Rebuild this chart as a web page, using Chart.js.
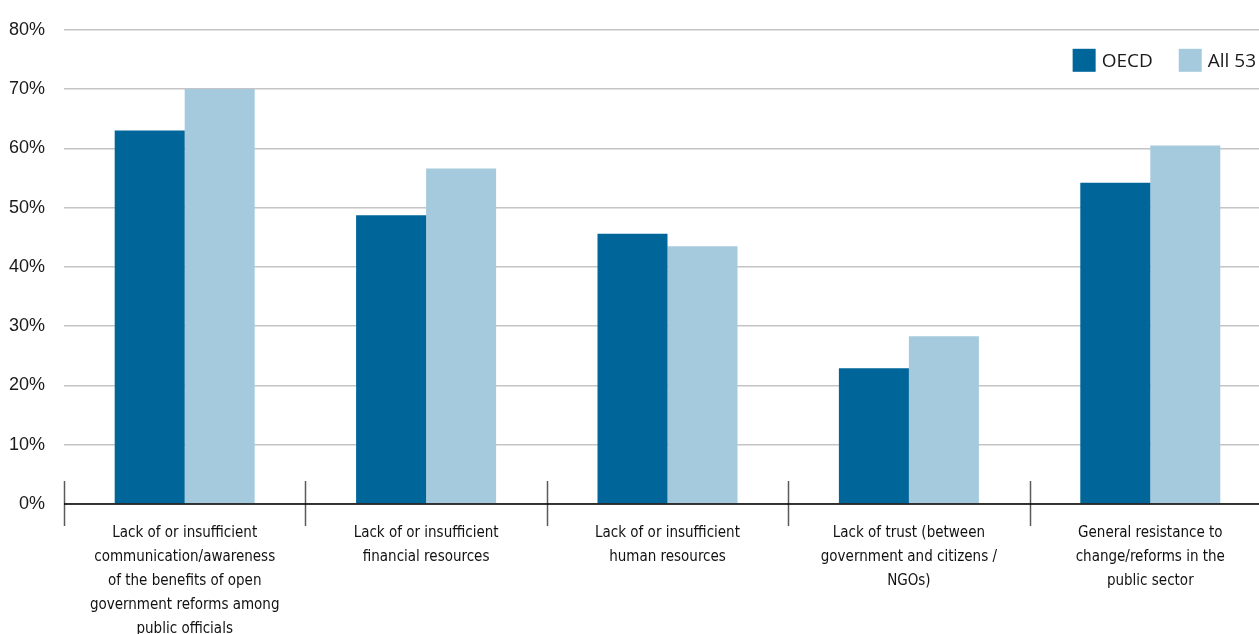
<!DOCTYPE html>
<html>
<head>
<meta charset="utf-8">
<script src="https://cdn.jsdelivr.net/npm/chart.js@4.4.0/dist/chart.umd.min.js"></script>
<style>
  html, body { margin: 0; padding: 0; background: #fff; overflow: hidden; }
  #wrap { position: relative; width: 1272px; height: 634px; }
</style>
</head>
<body>
<div id="wrap"><canvas id="c"></canvas></div>
<script>
const categories = [
  ["Lack of or insufficient", "communication/awareness", "of the benefits of open", "government reforms among", "public officials"],
  ["Lack of or insufficient", "financial resources"],
  ["Lack of or insufficient", "human resources"],
  ["Lack of trust (between", "government and citizens /", "NGOs)"],
  ["General resistance to", "change/reforms in the", "public sector"]
];
const oecdValues = [63.0, 48.7, 45.6, 22.9, 54.2];
const all53Values = [70.0, 56.6, 43.5, 28.3, 60.5];
const seriesNames = ["OECD", "All 53"];
const yTicks = [0, 10, 20, 30, 40, 50, 60, 70, 80];

const separators = {
  id: 'separators',
  afterDatasetsDraw(chart) {
    const { ctx, chartArea, scales } = chart;
    const n = categories.length;
    const step = (chartArea.right - chartArea.left) / n;
    const y0 = scales.y.getPixelForValue(0);
    ctx.save();
    ctx.strokeStyle = '#5a5a5a';
    ctx.lineWidth = 1.5;
    for (let i = 0; i <= n; i++) {
      const x = Math.round(chartArea.left + i * step) + 0.5;
      ctx.beginPath();
      ctx.moveTo(x, y0 - 23);
      ctx.lineTo(x, y0 + 22);
      ctx.stroke();
    }
    ctx.strokeStyle = '#000';
    ctx.lineWidth = 1.5;
    ctx.beginPath();
    ctx.moveTo(chartArea.left, y0);
    ctx.lineTo(chartArea.right, y0);
    ctx.stroke();
    ctx.restore();
  }
};

const insideLegend = {
  id: 'insideLegend',
  afterDraw(chart) {
    const { ctx, chartArea } = chart;
    const box = 23, gapText = 6, gapItem = 26;
    const top = chartArea.top + 19;
    ctx.save();
    ctx.font = "19px 'Open Sans', sans-serif";
    ctx.textBaseline = 'middle';
    ctx.textAlign = 'left';
    const items = chart.data.datasets.map(ds => ({ text: ds.label, color: ds.backgroundColor, w: ctx.measureText(ds.label).width }));
    let total = 0;
    items.forEach((it, i) => { total += box + gapText + it.w + (i < items.length - 1 ? gapItem : 0); });
    let x = chart.width - 16 - total;
    items.forEach(it => {
      ctx.fillStyle = it.color;
      ctx.fillRect(x, top, box, box);
      ctx.fillStyle = '#1a1a1a';
      ctx.fillText(it.text, x + box + gapText, top + box / 2 + 1);
      x += box + gapText + it.w + gapItem;
    });
    ctx.restore();
  }
};

new Chart(document.getElementById('c'), {
  type: 'bar',
  data: {
    labels: categories,
    datasets: [
      { label: seriesNames[0], data: oecdValues, backgroundColor: '#006599', borderWidth: 0 },
      { label: seriesNames[1], data: all53Values, backgroundColor: '#a6cadd', borderWidth: 0 }
    ]
  },
  options: {
    responsive: true,
    maintainAspectRatio: false,
    animation: false,
    datasets: { bar: { categoryPercentage: 0.58, barPercentage: 1 } },
    layout: { padding: { top: 24, right: 1, left: 0, bottom: 0 } },
    plugins: {
      legend: { display: false },
      tooltip: { enabled: false }
    },
    scales: {
      x: {
        offset: true,
        grid: { display: false, drawTicks: false },
        border: { display: false },
        ticks: {
          maxRotation: 0,
          autoSkip: false,
          padding: 17,
          color: '#111',
          font: { family: "'DejaVu Sans Condensed', 'Liberation Sans', sans-serif", size: 15, lineHeight: '24px' }
        },
        afterFit(scale) { scale.height = 130; }
      },
      y: {
        min: 0,
        max: 80,
        afterBuildTicks(scale) { scale.ticks = yTicks.map(v => ({ value: v })); },
        grid: {
          drawTicks: false,
          color: '#c4c4c4',
          lineWidth: 1.5
        },
        border: { display: false },
        ticks: {
          padding: 19,
          color: '#1a1a1a',
          font: { family: "'Liberation Sans', Arial, sans-serif", size: 18 },
          callback: v => v + '%'
        },
        afterFit(scale) { scale.width = 64; }
      }
    }
  },
  plugins: [separators, insideLegend]
});
</script>
</body>
</html>
